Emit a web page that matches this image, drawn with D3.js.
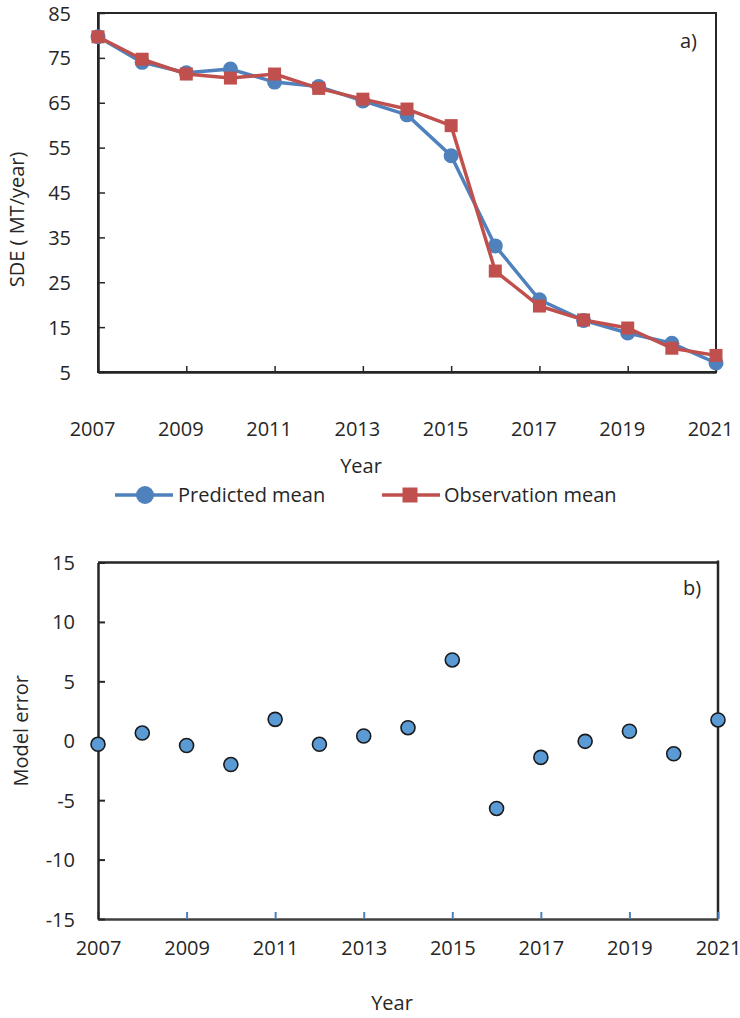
<!DOCTYPE html>
<html>
<head>
<meta charset="utf-8">
<script src="https://cdn.jsdelivr.net/npm/d3@7/dist/d3.min.js"></script>
<style>
  html, body { margin: 0; padding: 0; background: #fff; }
  svg { display: block; }
  text { font-family: "Open Sans", sans-serif; fill: #262626; }
</style>
</head>
<body>
<svg id="chart" width="740" height="1018"></svg>
<script>
// Annual sediment delivery: predicted vs observed means, and the model error
const years = [2007, 2008, 2009, 2010, 2011, 2012, 2013, 2014, 2015, 2016, 2017, 2018, 2019, 2020, 2021];
const predictedMean = [79.7, 74.0, 71.7, 72.5, 69.6, 68.6, 65.4, 62.3, 53.2, 33.1, 21.1, 16.5, 13.7, 11.4, 7.0];
const observationMean = [79.7, 74.7, 71.4, 70.5, 71.4, 68.2, 65.8, 63.6, 59.9, 27.5, 19.7, 16.6, 14.8, 10.3, 8.7];
const modelError = [-0.3, 0.65, -0.4, -2.0, 1.8, -0.3, 0.4, 1.1, 6.8, -5.7, -1.4, -0.05, 0.8, -1.1, 1.75];

const xTicks = [2007, 2009, 2011, 2013, 2015, 2017, 2019, 2021];
const sdeTicks = [5, 15, 25, 35, 45, 55, 65, 75, 85];
const errTicks = [-15, -10, -5, 0, 5, 10, 15];
const seriesNames = ["Predicted mean", "Observation mean"];

const BLUE = "#4f81bd", RED = "#c0504d", POINT = "#5b9bd5", AXIS = "#262626";
const FONT = 20;
const plain = d => String(d); // hyphen-minus, as in the printed labels

const svg = d3.select("#chart");

// ---------- Panel a ----------
const xa = d3.scaleLinear().domain([2007, 2021]).range([98, 716]);
const ya = d3.scaleLinear().domain([5, 85]).range([372, 13]);

const ga = svg.append("g");

// frame
ga.append("rect")
  .attr("x", xa(2007)).attr("y", ya(85))
  .attr("width", xa(2021) - xa(2007)).attr("height", ya(5) - ya(85))
  .attr("fill", "none").attr("stroke", AXIS).attr("stroke-width", 2);

const axA_x = ga.append("g").attr("transform", `translate(0,${ya(5)})`)
  .call(d3.axisBottom(xa).tickValues(xTicks).tickFormat(plain).tickSize(-6).tickSizeOuter(0));
axA_x.select(".domain").attr("stroke", AXIS).attr("stroke-width", 2.5);
axA_x.selectAll(".tick line").attr("stroke", AXIS).attr("stroke-width", 1.5);
axA_x.selectAll(".tick text").attr("y", 64).attr("dy", 0).attr("dx", -6)
  .style("font-size", FONT + "px").style("fill", AXIS);

const axA_y = ga.append("g").attr("transform", `translate(${xa(2007)},0)`)
  .call(d3.axisLeft(ya).tickValues(sdeTicks).tickFormat(plain).tickSize(-7).tickSizeOuter(0).tickPadding(27));
axA_y.select(".domain").attr("stroke", AXIS).attr("stroke-width", 2.5);
axA_y.selectAll(".tick line").attr("stroke", AXIS).attr("stroke-width", 1.5);
axA_y.selectAll(".tick text").attr("dy", "0.35em").style("font-size", FONT + "px").style("fill", AXIS);

ga.append("text").attr("transform", `translate(24,${ya(39)}) rotate(-90)`)
  .attr("text-anchor", "middle").style("font-size", FONT + "px").text("SDE ( MT/year)");

ga.append("text").attr("x", 361).attr("y", 472.5).attr("text-anchor", "middle")
  .style("font-size", FONT + "px").text("Year");

ga.append("text").attr("x", 680).attr("y", 48).style("font-size", FONT + "px").text("a)");

const line = d3.line().x(d => xa(d[0])).y(d => ya(d[1]));
const predPts = years.map((y, i) => [y, predictedMean[i]]);
const obsPts = years.map((y, i) => [y, observationMean[i]]);

ga.append("path").datum(predPts).attr("d", line)
  .attr("fill", "none").attr("stroke", BLUE).attr("stroke-width", 3.5).attr("stroke-linejoin", "round");
ga.selectAll("circle.pred").data(predPts).join("circle").attr("class", "pred")
  .attr("cx", d => xa(d[0])).attr("cy", d => ya(d[1])).attr("r", 7.5).attr("fill", BLUE);

ga.append("path").datum(obsPts).attr("d", line)
  .attr("fill", "none").attr("stroke", RED).attr("stroke-width", 3.5).attr("stroke-linejoin", "round");
const SQ = 13;
ga.selectAll("rect.obs").data(obsPts).join("rect").attr("class", "obs")
  .attr("x", d => xa(d[0]) - SQ / 2).attr("y", d => ya(d[1]) - SQ / 2)
  .attr("width", SQ).attr("height", SQ).attr("fill", RED);

// legend
const lg = svg.append("g");
lg.append("line").attr("x1", 115).attr("x2", 173).attr("y1", 495).attr("y2", 495)
  .attr("stroke", BLUE).attr("stroke-width", 3.5);
lg.append("circle").attr("cx", 145).attr("cy", 495).attr("r", 9).attr("fill", BLUE);
lg.append("text").attr("x", 178).attr("y", 501.5).style("font-size", FONT + "px").text(seriesNames[0]);
lg.append("line").attr("x1", 382).attr("x2", 440).attr("y1", 495).attr("y2", 495)
  .attr("stroke", RED).attr("stroke-width", 3.5);
lg.append("rect").attr("x", 410 - 7.5).attr("y", 495 - 7.5).attr("width", 15).attr("height", 15).attr("fill", RED);
lg.append("text").attr("x", 444).attr("y", 501.5).style("font-size", FONT + "px").text(seriesNames[1]);

// ---------- Panel b ----------
const xb = d3.scaleLinear().domain([2007, 2021]).range([98, 718]);
const yb = d3.scaleLinear().domain([-15, 15]).range([919, 562.5]);
const gb = svg.append("g");

// top and right border
gb.append("path")
  .attr("d", `M${xb(2007)},${yb(15)}H${xb(2021)}M${xb(2021)},${yb(15) - 2}V${yb(-15)}`)
  .attr("fill", "none").attr("stroke", AXIS).attr("stroke-width", 2.5);

const axB_x = gb.append("g").attr("transform", `translate(0,${yb(-15)})`)
  .call(d3.axisBottom(xb).tickValues(xTicks).tickFormat(plain).tickSize(-7).tickSizeOuter(0));
axB_x.select(".domain").attr("stroke", "#404040").attr("stroke-width", 2.5);
axB_x.selectAll(".tick line").attr("stroke", BLUE).attr("stroke-width", 2);
axB_x.selectAll(".tick text").attr("y", 36).attr("dy", 0)
  .style("font-size", FONT + "px").style("fill", AXIS);

const axB_y = gb.append("g").attr("transform", `translate(${xb(2007)},0)`)
  .call(d3.axisLeft(yb).tickValues(errTicks).tickFormat(plain).tickSize(-7).tickSizeOuter(0).tickPadding(23));
axB_y.select(".domain").attr("stroke", AXIS).attr("stroke-width", 2.5);
axB_y.selectAll(".tick line").attr("stroke", AXIS).attr("stroke-width", 2);
axB_y.selectAll(".tick text").attr("dy", "0.35em").style("font-size", FONT + "px").style("fill", AXIS);

gb.append("text").attr("transform", `translate(28,${yb(0) - 10}) rotate(-90)`)
  .attr("text-anchor", "middle").style("font-size", FONT + "px").text("Model error");

gb.append("text").attr("x", 392).attr("y", 1010).attr("text-anchor", "middle")
  .style("font-size", FONT + "px").text("Year");

gb.append("text").attr("x", 683).attr("y", 595).style("font-size", FONT + "px").text("b)");

gb.selectAll("circle.err").data(years.map((y, i) => [y, modelError[i]])).join("circle")
  .attr("class", "err")
  .attr("cx", d => xb(d[0])).attr("cy", d => yb(d[1])).attr("r", 7)
  .attr("fill", POINT).attr("stroke", "#1a1a1a").attr("stroke-width", 1.6);
</script>
</body>
</html>
